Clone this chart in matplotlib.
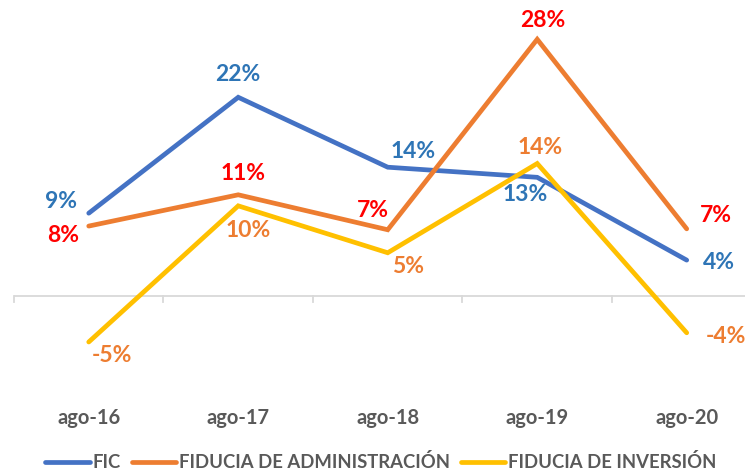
import matplotlib
matplotlib.use("Agg")
import matplotlib.pyplot as plt

categories = ["ago-16", "ago-17", "ago-18", "ago-19", "ago-20"]
fic = [9.0, 21.6, 14.0, 12.9, 3.9]
admin = [7.6, 11.0, 7.2, 27.9, 7.3]
inversion = [-5.0, 9.8, 4.7, 14.4, -4.0]
series_names = ["FIC", "FIDUCIA DE ADMINISTRACIÓN", "FIDUCIA DE INVERSIÓN"]

plt.rcParams['font.family'] = ['Lato', 'DejaVu Sans']

W, H = 745, 473
fig = plt.figure(figsize=(W / 100, H / 100), dpi=100)
left_px, right_px, top_px, bottom_px = 14, 745, 10, 380
ax = fig.add_axes([left_px / W, 1 - bottom_px / H, (right_px - left_px) / W, (bottom_px - top_px) / H])
s = 9.2
zero_px = 296
ax.set_ylim((zero_px - bottom_px) / s, (zero_px - top_px) / s)
ax.set_xlim(-0.5, 4.39)
for sp in ax.spines.values():
    sp.set_visible(False)
ax.set_yticks([])
x = list(range(len(categories)))
ax.set_xticks(x)
ax.set_xticklabels(categories, fontsize=14.5, fontweight='bold', color='#595959')
ax.tick_params(axis='x', length=0, pad=20)

ax.axhline(0, color='#D9D9D9', lw=1.3, zorder=1)
for b in [i - 0.5 for i in range(len(categories) + 1)]:
    ax.plot([b, b], [0, -6 / s], color='#D9D9D9', lw=1.3, zorder=1, clip_on=False)

colors = ['#4472C4', '#ED7D31', '#FFC000']
label_colors = ['#2E75B6', '#FF0000', '#ED7D31']
data = [fic, admin, inversion]
offsets = [
    [(-28, 12), (0, 23), (25, 16), (-12, -17), (32, -2)],
    [(-26, -9), (5, 21), (-15, 19), (6, 19), (29, 13)],
    [(23, -13), (10, -25), (20, -14), (3, 16), (39, -4)],
]
for vals, c, lc, name, offs in zip(data, colors, label_colors, series_names, offsets):
    ax.plot(x, vals, color=c, lw=3.4, solid_capstyle='round', solid_joinstyle='miter', label=name, zorder=3)
    for xi, v, (dx, dy) in zip(x, vals, offs):
        ax.annotate(f"{round(v):.0f}%", (xi, v), xytext=(dx, dy), textcoords='offset pixels',
                    ha='center', va='center', fontsize=16.5, fontweight='bold', color=lc, zorder=4)

leg = fig.legend(loc='center', bbox_to_anchor=(381 / W, 1 - 462 / H), ncol=3, frameon=False,
                 prop={'size': 13.3, 'weight': 'bold'}, handlelength=2.4, handletextpad=0.15,
                 columnspacing=0.6)
for t in leg.get_texts():
    t.set_color('#595959')

fig.savefig("out.png", dpi=100)
